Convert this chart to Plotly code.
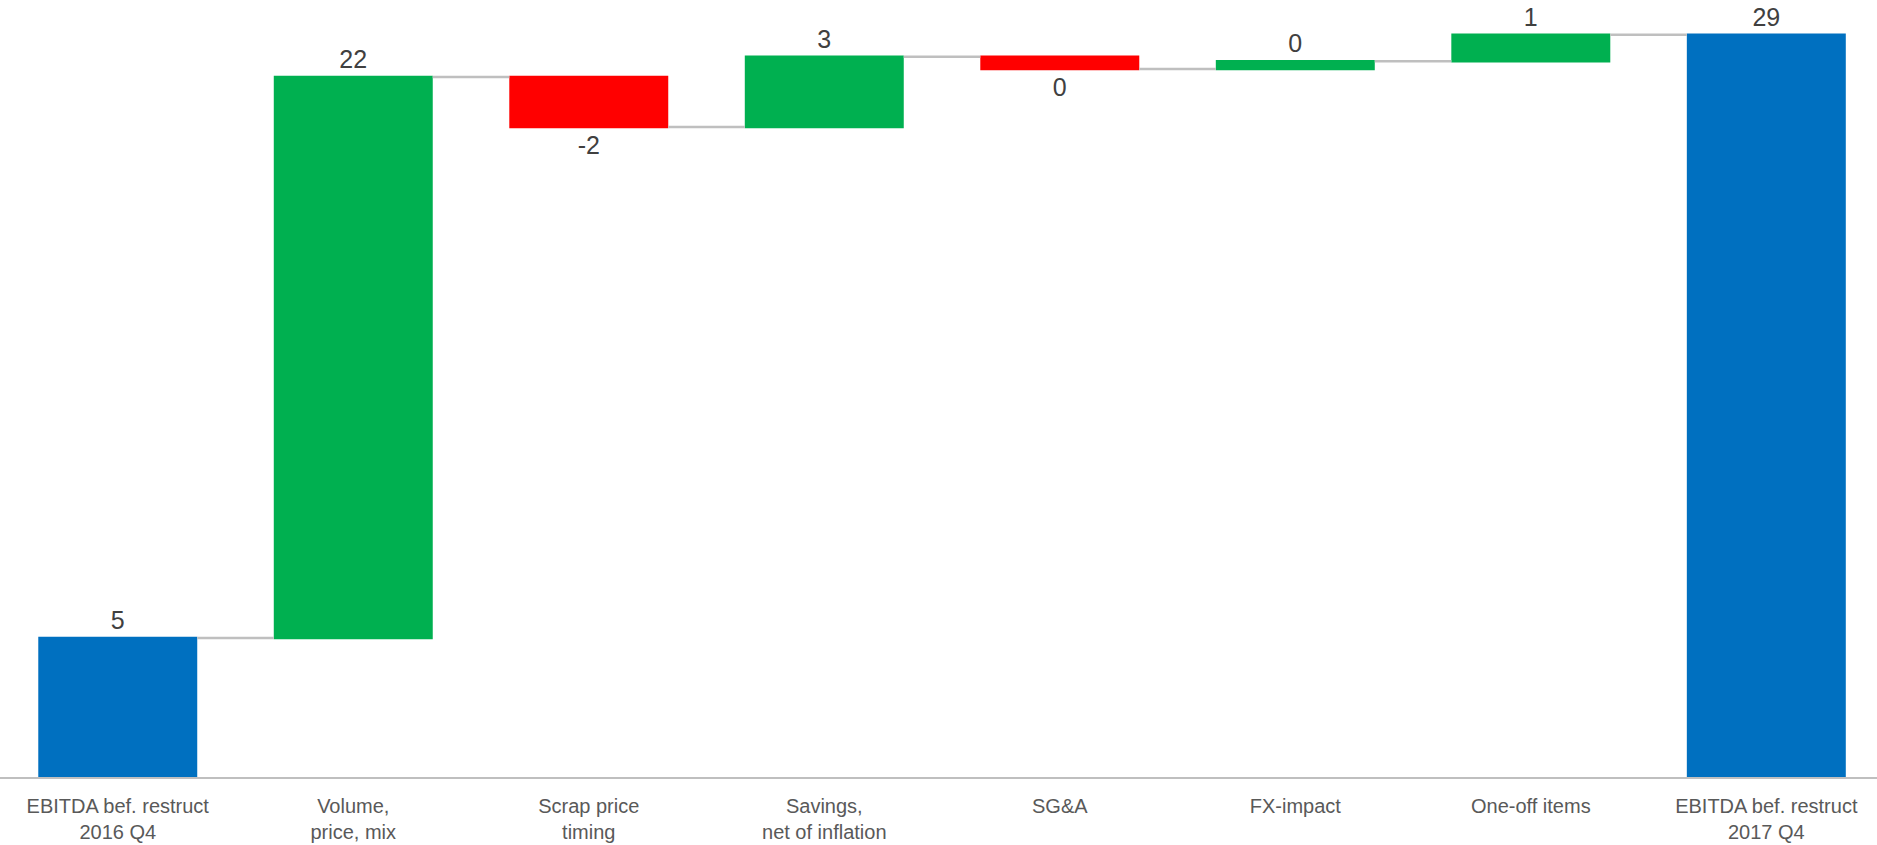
import plotly.graph_objects as go

categories = [
    "EBITDA bef. restruct<br>2016 Q4",
    "Volume,<br>price, mix",
    "Scrap price<br>timing",
    "Savings,<br>net of inflation",
    "SG&A",
    "FX-impact",
    "One-off items",
    "EBITDA bef. restruct<br>2017 Q4",
]
values = [5.43, 21.92, -1.95, 2.74, -0.48, 0.31, 1.03, 0]
measures = ["absolute", "relative", "relative", "relative", "relative", "relative", "relative", "total"]
total_value = sum(values[:-1])
labels = [str(int(round(v))) for v in values[:-1]] + [str(int(round(total_value)))]

BLUE = "#0070C0"
GREEN = "#00B050"
RED = "#FF0000"

fig = go.Figure(
    go.Waterfall(
        x=categories,
        y=values,
        measure=measures,
        text=labels,
        textposition="outside",
        textfont=dict(family="Liberation Sans, Arial, sans-serif", size=25, color="#404040"),
        width=[0.675] * len(categories),
        increasing=dict(marker=dict(color=GREEN, line=dict(width=0))),
        decreasing=dict(marker=dict(color=RED, line=dict(width=0))),
        totals=dict(marker=dict(color=BLUE, line=dict(width=0))),
        connector=dict(line=dict(color="#BFBFBF", width=2.5)),
        cliponaxis=False,
        hoverinfo="skip",
    )
)

fig.update_layout(
    width=1877,
    height=845,
    margin=dict(l=0, r=0, t=0, b=68),
    plot_bgcolor="white",
    paper_bgcolor="white",
    showlegend=False,
    font=dict(family="Liberation Sans, Arial, sans-serif"),
    xaxis=dict(
        type="category",
        range=[-0.5, 7.47],
        showgrid=False,
        showline=True,
        linecolor="#BFBFBF",
        linewidth=2,
        ticks="",
        ticklabelstandoff=10,
        automargin=False,
        tickfont=dict(size=20, color="#595959"),
        fixedrange=True,
    ),
    yaxis=dict(
        range=[0, 30.36],
        visible=False,
        showgrid=False,
        zeroline=False,
        automargin=False,
        fixedrange=True,
    ),
)

fig.write_html("out.html", config={"displayModeBar": False})
